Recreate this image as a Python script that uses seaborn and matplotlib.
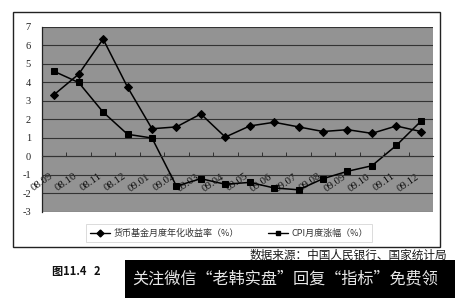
import matplotlib
matplotlib.use("Agg")
import matplotlib.pyplot as plt
import numpy as np
import pandas as pd
import seaborn as sns
from matplotlib.lines import Line2D
from matplotlib.patches import Rectangle
from matplotlib.ticker import FixedLocator
from matplotlib.transforms import ScaledTranslation

# Monthly data, Sep 2008 - Dec 2009
months = ["08.09", "08.10", "08.11", "08.12", "09.01", "09.02", "09.03", "09.04",
          "09.05", "09.06", "09.07", "09.08", "09.09", "09.10", "09.11", "09.12"]
fund_yield = [3.35, 4.45, 6.35, 3.75, 1.5, 1.6, 2.3, 1.05,
              1.65, 1.85, 1.6, 1.35, 1.45, 1.25, 1.65, 1.35]
cpi_change = [4.6, 4.0, 2.4, 1.2, 1.0, -1.6, -1.2, -1.5,
              -1.4, -1.7, -1.8, -1.2, -0.8, -0.5, 0.6, 1.9]
series_names = ["货币基金月度年化收益率（%）", "CPI月度涨幅（%）"]
y_ticks = list(range(-3, 8))
source_note = "数据来源：中国人民银行、国家统计局"
caption = "图11.4   2"
banner = "关注微信“老韩实盘”回复“指标”免费领"

sns.set_theme(style="white")
plt.rcParams["font.family"] = ["Liberation Serif", "Noto Sans CJK SC", "DejaVu Sans"]
plt.rcParams["axes.unicode_minus"] = False

SERIF = ["Liberation Serif", "DejaVu Serif"]
CJK = ["Noto Sans CJK SC", "DejaVu Sans"]

W, H = 455, 298
fig = plt.figure(figsize=(W / 100, H / 100), dpi=100)
fig.patch.set_facecolor("white")


def fx(px):
    return px / W


def fy(py):
    return 1 - py / H


# outer chart frame
fig.add_artist(Rectangle((fx(13), fy(247)), fx(440) - fx(13), fy(12) - fy(247),
                         transform=fig.transFigure, fill=False, ec="#222222", lw=1.0))

ax = fig.add_axes([fx(42), fy(212), fx(433) - fx(42), fy(27) - fy(212)])
ax.set_facecolor("#939393")

df = pd.DataFrame({
    "month": list(range(len(months))) * 2,
    "value": fund_yield + cpi_change,
    "series": [series_names[0]] * len(months) + [series_names[1]] * len(months),
})

sns.lineplot(data=df, x="month", y="value", hue="series", style="series",
             markers={series_names[0]: "D", series_names[1]: "s"}, dashes=False,
             palette=["black", "black"], markersize=4.5, linewidth=1.1,
             markeredgecolor="black", legend=False, ax=ax)

ax.set_xlim(-0.5, len(months) - 0.5)
ax.set_ylim(-3, 7)
ax.set_xlabel("")
ax.set_ylabel("")

# horizontal gridlines
ax.set_yticks(y_ticks)
ax.set_yticklabels([str(v) for v in y_ticks], fontsize=7.5, color="#222222",
                   family=SERIF)
ax.yaxis.grid(True, color="#333333", lw=0.8)
ax.set_axisbelow(True)
ax.tick_params(axis="y", length=0, pad=8)

# category axis crossing at zero
for s in ["top", "right"]:
    ax.spines[s].set_visible(False)
ax.spines["left"].set_color("#222222")
ax.spines["left"].set_linewidth(0.9)
ax.spines["bottom"].set_position(("data", 0))
ax.spines["bottom"].set_color("#333333")
ax.spines["bottom"].set_linewidth(0.8)
ax.set_xticks(range(len(months)))
ax.set_xticklabels(months, fontsize=7.8, color="#111111", rotation=35,
                   ha="right", va="top", rotation_mode="anchor", family=SERIF)
ax.xaxis.set_minor_locator(FixedLocator(np.arange(0.5, len(months) - 0.5, 1)))
ax.tick_params(axis="x", which="major", length=0, pad=11)
ax.tick_params(axis="x", which="minor", length=3, width=0.7, color="#333333",
               direction="in", bottom=True)
shift = ScaledTranslation(-0.05, 0, fig.dpi_scale_trans)
for lbl in ax.get_xticklabels():
    lbl.set_transform(lbl.get_transform() + shift)

# legend box
handles = [
    Line2D([], [], color="black", lw=1.0, marker="D", markersize=3.5),
    Line2D([], [], color="black", lw=1.0, marker="s", markersize=3.5),
]
leg = fig.legend(handles, series_names, loc="lower left",
                 bbox_to_anchor=(fx(81), fy(247)), ncol=2, frameon=True,
                 fontsize=6.5, handlelength=2.2, handletextpad=0.4,
                 columnspacing=3.2, borderpad=0.5, fancybox=False)
leg.get_frame().set_edgecolor("#cccccc")
leg.get_frame().set_linewidth(0.6)
for t in leg.get_texts():
    t.set_color("#333333")
    t.set_family(CJK)

fig.text(fx(447), fy(255), source_note, ha="right", va="center", fontsize=8.4,
         color="#1a1a1a", family=CJK)
fig.text(fx(52), fy(272), caption, ha="left", va="center", fontsize=8,
         fontweight="bold", color="#111111", family=CJK)

# banner strip
fig.add_artist(Rectangle((fx(125), 0), 1 - fx(125), fy(260),
                         transform=fig.transFigure, fc="black", ec="none"))
fig.text(fx(132), fy(279), banner, ha="left", va="center", fontsize=11.6,
         color="#e6e6e6", family=CJK)

fig.savefig("out.png", dpi=100)
